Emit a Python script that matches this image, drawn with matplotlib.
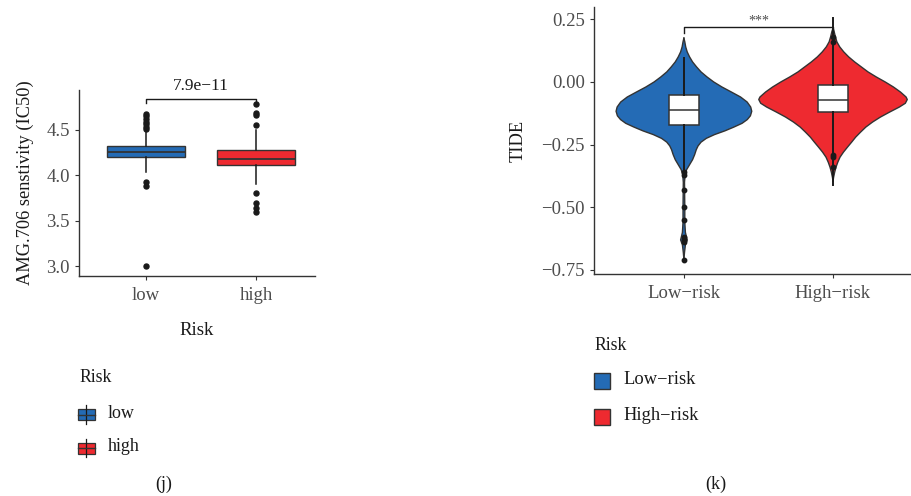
import matplotlib
matplotlib.use("Agg")
import matplotlib.pyplot as plt
from matplotlib.patches import Rectangle

plt.rcParams["font.family"] = ["Liberation Serif", "DejaVu Serif"]

# ── Painel (j): AMG.706 IC50 por grupo de risco ─────────────────────────────
grupos_j = ["low", "high"]
j_q1 = [4.198, 4.118]
j_mediana = [4.258, 4.181]
j_q3 = [4.327, 4.283]
j_bigode_inf = [4.033, 3.908]
j_bigode_sup = [4.485, 4.504]
j_outliers = [
    [4.51, 4.53, 4.56, 4.59, 4.62, 4.65, 4.67, 3.93, 3.88, 3.00],
    [4.79, 4.69, 4.66, 4.55, 3.81, 3.69, 3.64, 3.60],
]
j_pvalor = "7.9e\u221211"

# ── Painel (k): TIDE por grupo de risco ─────────────────────────────────────
grupos_k = ["Low\u2212risk", "High\u2212risk"]
k_q1 = [-0.170, -0.120]
k_mediana = [-0.110, -0.071]
k_q3 = [-0.053, -0.011]
k_bigode_inf = [-0.356, -0.410]
k_bigode_sup = [0.096, 0.255]
k_outliers = [
    [-0.36, -0.37, -0.43, -0.50, -0.55, -0.62, -0.63, -0.64, -0.71],
    [0.18, 0.16, -0.29, -0.30, -0.34],
]
k_signif = "***"

# contorno dos violinos: nível de TIDE e meia-largura (unidades de categoria)
violino_low_y = [0.175, 0.160, 0.140, 0.120, 0.100, 0.080, 0.060, 0.040, 0.020,
                 0.000, -0.020, -0.040, -0.060, -0.080, -0.100, -0.117, -0.135,
                 -0.150, -0.165, -0.180, -0.195, -0.210, -0.225, -0.240, -0.255,
                 -0.270, -0.290, -0.310, -0.330, -0.350, -0.370, -0.400, -0.450,
                 -0.500, -0.560, -0.600, -0.630, -0.650, -0.680, -0.708]
violino_low_w = [0.000, 0.006, 0.012, 0.022, 0.038, 0.058, 0.085, 0.115, 0.155,
                 0.200, 0.255, 0.318, 0.380, 0.424, 0.448, 0.455, 0.446, 0.425,
                 0.390, 0.335, 0.275, 0.205, 0.150, 0.115, 0.095, 0.083, 0.072,
                 0.058, 0.038, 0.018, 0.008, 0.004, 0.005, 0.006, 0.006, 0.010,
                 0.022, 0.010, 0.004, 0.000]
violino_high_y = [0.215, 0.200, 0.180, 0.160, 0.140, 0.120, 0.100, 0.080, 0.060,
                  0.040, 0.020, 0.000, -0.020, -0.040, -0.060, -0.070, -0.085,
                  -0.100, -0.120, -0.140, -0.160, -0.180, -0.200, -0.220, -0.240,
                  -0.260, -0.280, -0.300, -0.320, -0.340, -0.360, -0.380, -0.396]
violino_high_w = [0.000, 0.008, 0.016, 0.026, 0.045, 0.072, 0.105, 0.145, 0.190,
                  0.235, 0.290, 0.350, 0.405, 0.452, 0.490, 0.498, 0.485, 0.445,
                  0.380, 0.318, 0.265, 0.220, 0.185, 0.152, 0.125, 0.097, 0.070,
                  0.047, 0.032, 0.020, 0.011, 0.004, 0.000]

AZUL, VERMELHO = "#246BB5", "#EE2A30"
CORES = [AZUL, VERMELHO]
BORDA = "#333333"
CINZA_TXT = "#4D4D4D"
PRETO = "#1a1a1a"

W, H = 912, 496
fig = plt.figure(figsize=(W / 100, H / 100), dpi=100)


def px_ax(x0, x1, y0, y1):
    """Eixo definido por coordenadas em pixels (origem no canto superior)."""
    return fig.add_axes([x0 / W, 1 - y1 / H, (x1 - x0) / W, (y1 - y0) / H])


def estilo_eixo(ax):
    for lado in ("top", "right"):
        ax.spines[lado].set_visible(False)
    for lado in ("left", "bottom"):
        ax.spines[lado].set_color(BORDA)
        ax.spines[lado].set_linewidth(1.0)
    ax.tick_params(colors=BORDA, labelcolor=CINZA_TXT, labelsize=13.5,
                   length=3, width=0.8)
    ax.tick_params(axis="x", pad=5)


def stats(q1, med, q3, lo, hi, fl, rotulo):
    return [dict(q1=q1[i], med=med[i], q3=q3[i], whislo=lo[i], whishi=hi[i],
                 fliers=fl[i], label=rotulo[i]) for i in range(len(q1))]


# ── (j) boxplot ─────────────────────────────────────────────────────────────
axj = px_ax(79, 315, 90, 276)
estilo_eixo(axj)
bj = axj.bxp(stats(j_q1, j_mediana, j_q3, j_bigode_inf, j_bigode_sup, j_outliers, grupos_j),
             positions=[1, 2], widths=0.705, patch_artist=True,
             boxprops=dict(edgecolor=BORDA, linewidth=1.0),
             medianprops=dict(color=BORDA, linewidth=1.3),
             whiskerprops=dict(color=PRETO, linewidth=1.1),
             capprops=dict(linewidth=0),
             flierprops=dict(marker="o", markersize=3.6, markerfacecolor=PRETO,
                             markeredgecolor=PRETO))
for caixa, cor in zip(bj["boxes"], CORES):
    caixa.set_facecolor(cor)
axj.set_xlim(0.395, 2.535)
axj.set_ylim(2.89, 4.94)
axj.set_yticks([3.0, 3.5, 4.0, 4.5])
axj.set_yticklabels(["3.0", "3.5", "4.0", "4.5"])
axj.set_ylabel("AMG.706 senstivity (IC50)", fontsize=13.2, color=PRETO, labelpad=9)
axj.set_xlabel("Risk", fontsize=13.5, color=PRETO, labelpad=13)
axj.plot([1, 1, 2, 2], [4.798, 4.842, 4.842, 4.798], color=PRETO, lw=1.0,
         clip_on=False)
axj.text(1.5, 4.90, j_pvalor, ha="center", va="bottom", fontsize=12.5,
         color=PRETO, clip_on=False)

# ── (k) violino + boxplot ───────────────────────────────────────────────────
axk = px_ax(594, 918, 7, 274)
estilo_eixo(axk)
for pos, ys, ws, cor in ((1, violino_low_y, violino_low_w, AZUL),
                         (2, violino_high_y, violino_high_w, VERMELHO)):
    esq = [pos - w for w in ws]
    dir_ = [pos + w for w in ws]
    axk.fill_betweenx(ys, esq, dir_, facecolor=cor, edgecolor="none", zorder=1)
    axk.plot(esq, ys, color=BORDA, lw=1.0, zorder=2)
    axk.plot(dir_, ys, color=BORDA, lw=1.0, zorder=2)

bk = axk.bxp(stats(k_q1, k_mediana, k_q3, k_bigode_inf, k_bigode_sup, k_outliers, grupos_k),
             positions=[1, 2], widths=0.2, patch_artist=True,
             boxprops=dict(facecolor="white", edgecolor=BORDA, linewidth=1.1),
             medianprops=dict(color=BORDA, linewidth=1.1),
             whiskerprops=dict(color=PRETO, linewidth=1.4),
             capprops=dict(linewidth=0),
             flierprops=dict(marker="o", markersize=3.2, markerfacecolor=PRETO,
                             markeredgecolor=PRETO))
for art in bk["boxes"] + bk["medians"] + bk["whiskers"] + bk["fliers"]:
    art.set_zorder(3)
axk.set_xlim(0.397, 2.57)
axk.set_ylim(-0.766, 0.299)
axk.set_yticks([-0.75, -0.50, -0.25, 0.00, 0.25])
axk.set_yticklabels(["\u22120.75", "\u22120.50", "\u22120.25", "0.00", "0.25"])
axk.set_ylabel("TIDE", fontsize=13.2, color=PRETO, labelpad=11)
axk.plot([1, 1, 2, 2], [0.195, 0.219, 0.219, 0.195], color=PRETO, lw=1.0,
         zorder=4)
axk.text(1.5, 0.243, k_signif, ha="center", va="center", fontsize=10,
         color=CINZA_TXT)

# ── legendas e rótulos dos painéis (coordenadas em pixels) ──────────────────
ov = fig.add_axes([0, 0, 1, 1], facecolor="none")
ov.set_xlim(0, W)
ov.set_ylim(H, 0)
ov.axis("off")

ov.text(79, 377, "Risk", fontsize=12.8, va="center", ha="left", color=PRETO)
for yc, rot, cor in ((414.5, grupos_j[0], AZUL), (448, grupos_j[1], VERMELHO)):
    ov.plot([86.5, 86.5], [yc - 9.5, yc + 9], color=PRETO, lw=0.9)
    ov.add_patch(Rectangle((78.5, yc - 5.5), 16.5, 11, facecolor=cor,
                           edgecolor=BORDA, lw=0.9))
    ov.plot([78.5, 95], [yc, yc], color=BORDA, lw=1.0)
    ov.text(108, yc - 1.5, rot, fontsize=13, va="center", ha="left", color=PRETO)
ov.text(164, 484, "(j)", fontsize=13, va="center", ha="center", color=PRETO)

ov.text(594, 345, "Risk", fontsize=12.8, va="center", ha="left", color=PRETO)
for yc, rot, cor in ((380.5, grupos_k[0], AZUL), (416.5, grupos_k[1], VERMELHO)):
    ov.add_patch(Rectangle((594, yc - 8), 16, 16, facecolor=cor,
                           edgecolor=BORDA, lw=1.0))
    ov.text(623, yc - 0.5, rot, fontsize=13.3, va="center", ha="left", color=PRETO)
ov.text(716, 484, "(k)", fontsize=13, va="center", ha="center", color=PRETO)

fig.savefig("out.png", dpi=100, facecolor="white")
